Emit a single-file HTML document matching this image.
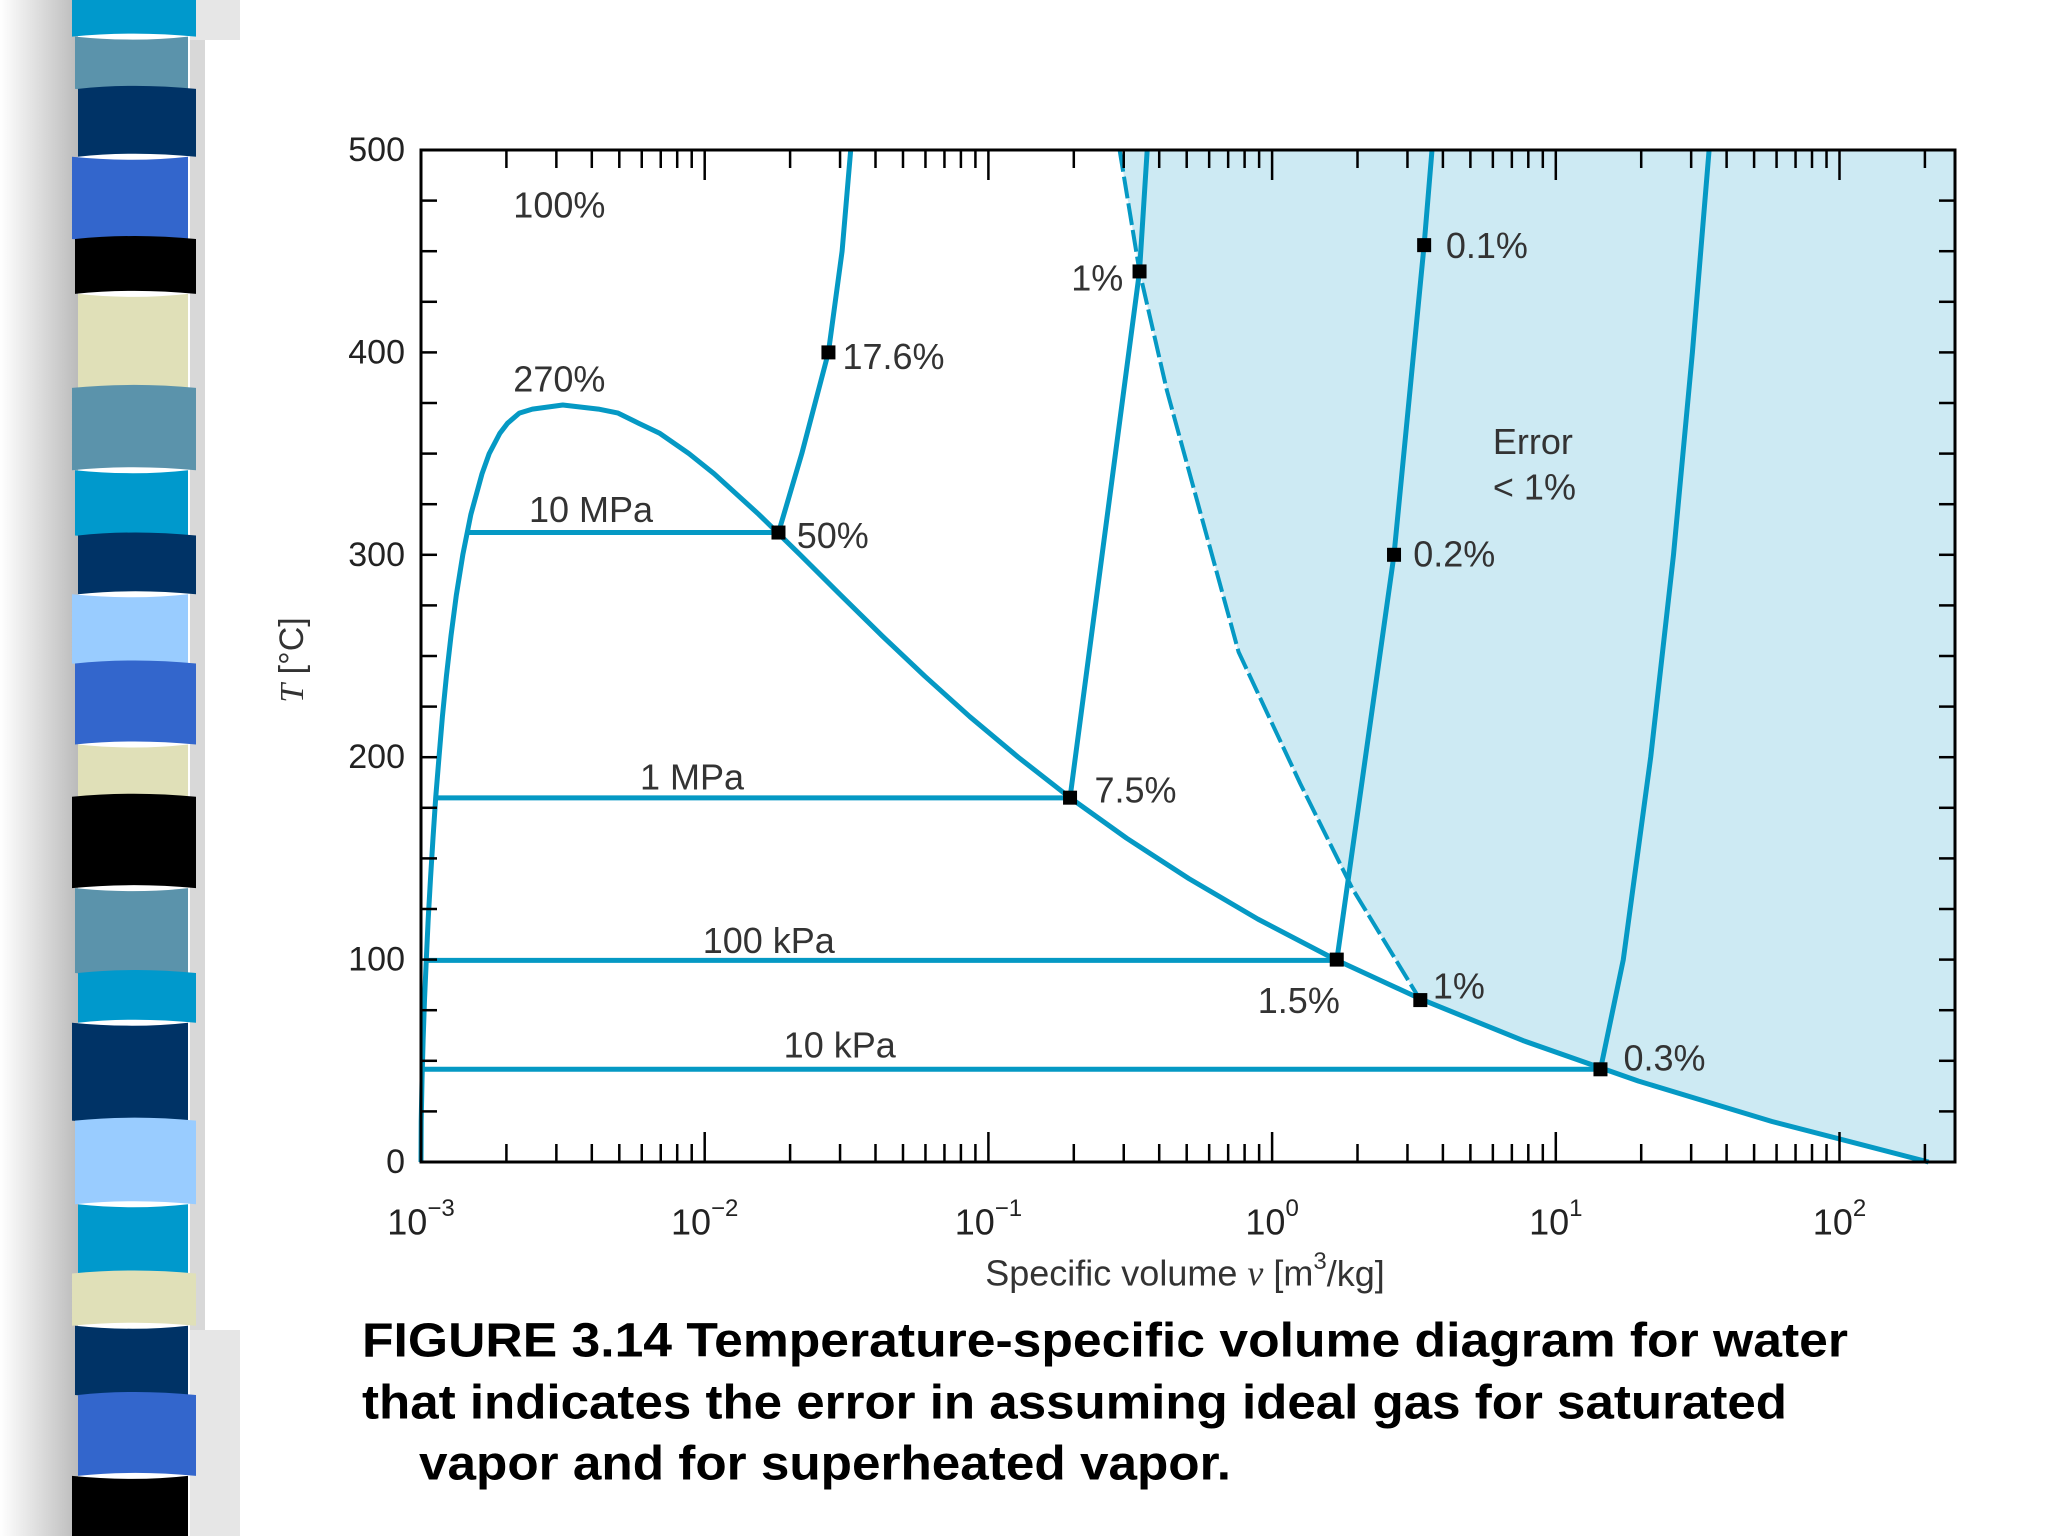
<!DOCTYPE html>
<html><head><meta charset="utf-8"><style>
html,body{margin:0;padding:0;background:#fff;}
svg{display:block;font-family:"Liberation Sans",sans-serif;}
</style></head><body>
<svg id="chart" width="2048" height="1536" viewBox="0 0 2048 1536" xmlns="http://www.w3.org/2000/svg">
<defs><linearGradient id="gs" x1="0" x2="1"><stop offset="0" stop-color="#fff"/><stop offset="1" stop-color="#bbb"/></linearGradient></defs>
<rect width="2048" height="1536" fill="#fff"/>
<rect x="0" y="0" width="78" height="1536" fill="url(#gs)"/>
<rect x="190" y="0" width="50" height="40" fill="#e6e6e6"/>
<rect x="190" y="40" width="15" height="1290" fill="#d8d8d8"/>
<rect x="190" y="1330" width="50" height="206" fill="#e6e6e6"/>
<g id="stripes"></g>
<g id="plot"></g>
<text transform="translate(292,660) rotate(-90)" text-anchor="middle" dominant-baseline="central" font-size="34" fill="#333"><tspan font-style="italic" font-family="Liberation Serif">T</tspan> [°C]</text>
<text x="1185" y="1273" text-anchor="middle" dominant-baseline="central" font-size="36" fill="#333">Specific volume <tspan font-style="italic" font-family="Liberation Serif">v</tspan> [m<tspan font-size="24" dy="-12">3</tspan><tspan dy="12">/kg]</tspan></text>
<g font-weight="bold" font-size="48" fill="#000">
<text x="362" y="1341" dominant-baseline="central" textLength="1486" lengthAdjust="spacingAndGlyphs">FIGURE 3.14 Temperature-specific volume  diagram for water</text>
<text x="362" y="1403" dominant-baseline="central" textLength="1425" lengthAdjust="spacingAndGlyphs">that indicates the error in assuming ideal gas for saturated</text>
<text x="419" y="1464" dominant-baseline="central" textLength="812" lengthAdjust="spacingAndGlyphs">vapor and for superheated vapor.</text>
</g>
</svg>
<script>
const stripeColors=['#0099cc','#5b93ab','#003366','#3366cc','#000000','#e0e0b8','#5b93ab','#0099cc','#003366','#99ccff','#3366cc','#e0e0b8','#000000','#5b93ab','#0099cc','#003366','#99ccff','#0099cc','#e0e0b8','#003366','#3366cc','#000000'];
const stripeEdges=[0,28,68,120,183,225,297,360,410,455,508,570,610,680,745,783,858,922,975,1015,1068,1130,1176];
// saturation dome
const domeT=[0.01,20,40,60,80,100,120,140,160,180,200,220,240,260,280,300,320,340,350,360,365,370,372,374];
const domeVf=[0.001,0.001002,0.001008,0.001017,0.001029,0.001044,0.00106,0.00108,0.001102,0.001127,0.001157,0.00119,0.001229,0.001276,0.001332,0.001404,0.001499,0.00164,0.00174,0.001895,0.00202,0.00222,0.00247,0.00316];
const domeVg=[206.1,57.8,19.52,7.67,3.41,1.673,0.891,0.509,0.307,0.194,0.1274,0.086,0.0597,0.0422,0.0302,0.0217,0.0155,0.0108,0.0088,0.00695,0.00585,0.00495,0.00422,0.00316];
// isobars: saturation temperature and superheated paths
const isoNames=['10 MPa','1 MPa','100 kPa','10 kPa'];
const isoTsat=[311,179.9,99.6,45.8];
const isoVf=[0.00145,0.001127,0.001043,0.00101];
const supV=[[0.0182,0.022,0.0273,0.0305,0.0327],[0.194,0.341,0.363],[1.69,2.69,3.435,3.66],[14.37,17.3,21.6,26.0,30.3,34.7]];
const supT=[[311,350,400,450,500],[179.9,440,500],[99.6,300,453,500],[45.8,100,200,300,400,500]];
// 1% error boundary (dashed)
const bndV=[0.29,0.341,0.426,0.762,1.256,1.92,3.33];
const bndT=[500,440,381,252,187,135,80];
// marked points
const ptV=[0.0273,0.0182,0.194,0.341,3.435,2.69,1.69,3.33,14.37];
const ptT=[400,311,180,440,453,300,100,80,45.8];
const yTicks=[0,100,200,300,400,500];
const xDecades=[-3,-2,-1,0,1,2];

const NS='http://www.w3.org/2000/svg';
const L=421,R=1955,T0=1162,T5=150,DEC=283.7;
const X=v=>L+(Math.log10(v)+3)*DEC;
const Y=t=>T0-(t/500)*(T0-T5);
function mk(tag,attrs,parent){const e=document.createElementNS(NS,tag);for(const k in attrs)e.setAttribute(k,attrs[k]);parent.appendChild(e);return e;}
const sg=document.getElementById('stripes');
const sc=1536/1176;
stripeColors.forEach((c,i)=>{const y0=stripeEdges[i]*sc,y1=stripeEdges[i+1]*sc;const w=i%2?6:-6;
 const p=mk('path',{d:`M${72+(i%3)*3},${y0} Q134,${y0+w} ${196-(i%2)*8},${y0} L${196-(i%2)*8},${y1} Q134,${y1+w} ${72+(i%3)*3},${y1} Z`,fill:c},sg);
 
 });
const g=document.getElementById('plot');
const xmax=Math.pow(10,(R-L)/DEC-3);
// shaded region
let sh=[];bndV.forEach((v,i)=>sh.push([X(v),Y(bndT[i])]));
for(let i=domeT.length-1;i>=0;i--){if(domeT[i]<=80)sh.push([X(domeVg[i]),Y(domeT[i])]);}
sh.push([R,Y(0)],[R,Y(500)]);
const shade=mk('polygon',{points:sh.map(p=>p.join(',')).join(' '),fill:'#cdeaf3'},g);


const C='#0599c4';
function line(vs,ts,name,extra){const d=vs.map((v,i)=>(i?'L':'M')+X(v).toFixed(1)+','+Y(ts[i]).toFixed(1)).join(' ');
 const p=mk('path',Object.assign({d:d,fill:'none',stroke:C,'stroke-width':5,'stroke-linejoin':'round'},extra||{}),g);
 
 return p;}
// dome
const dv=domeVf.concat(domeVg.slice(0,-1).reverse()),dt=domeT.concat(domeT.slice(0,-1).reverse());
line(dv,dt,'saturation-dome');
isoNames.forEach((n,i)=>{line([isoVf[i],supV[i][0]],[isoTsat[i],isoTsat[i]],'isobar-'+n.replace(' ','-').toLowerCase());
 line(supV[i],supT[i],'superheated-'+n.replace(' ','-').toLowerCase());});
line(bndV,bndT,'one-percent-error-boundary',{'stroke-dasharray':'22 5','stroke-width':4});
ptV.forEach((v,i)=>{const r=mk('rect',{x:X(v)-7,y:Y(ptT[i])-7,width:14,height:14,fill:'#000'},g);
 
 });
// frame
const fr=mk('rect',{x:L,y:T5,width:R-L,height:T0-T5,fill:'none',stroke:'#000','stroke-width':3},g);


for(let t=0;t<=500;t+=25){[[L,1],[R,-1]].forEach(([x,s])=>{const l=mk('line',{x1:x,x2:x+s*16,y1:Y(t),y2:Y(t),stroke:'#000','stroke-width':2.5},g);
 
 });}
xDecades.forEach(d=>{for(let m=1;m<10;m++){const v=m*Math.pow(10,d);if(v>xmax)break;const x=X(v);const len=m==1?30:18;
 [[T0,-1],[T5,1]].forEach(([y,s])=>{const l=mk('line',{x1:x,x2:x,y1:y,y2:y+s*len,stroke:'#000','stroke-width':2.5},g);
 
 });}});
yTicks.forEach(t=>{const e=mk('text',{x:405,y:Y(t),'text-anchor':'end','dominant-baseline':'central','font-size':34,fill:'#222'},g);e.textContent=t;
 
 });
xDecades.forEach(d=>{const e=mk('text',{x:X(Math.pow(10,d)),y:1222,'text-anchor':'middle','dominant-baseline':'central','font-size':36,fill:'#222'},g);
 e.innerHTML='10<tspan font-size="24" dy="-14">'+(d<0?'−'+(-d):d)+'</tspan>';
 
 });
const labels=[['100%',393,157,'start'],['270%',393,290,'start'],['10 MPa',405,390,'start'],['1 MPa',490,595,'start'],['100 kPa',538,720,'start'],['10 kPa',600,800,'start'],['17.6%',645,273,'start'],['50%',610,410,'start'],['7.5%',838,605,'start'],['1%',860,213,'end'],['0.1%',1107,188,'start'],['Error',1143,338,'start'],['< 1%',1143,373,'start'],['0.2%',1082,424,'start'],['1.5%',963,766,'start'],['1%',1097,755,'start'],['0.3%',1243,810,'start']];
labels.forEach(([t,x,y,a])=>{const e=mk('text',{x:x*sc,y:y*sc,'text-anchor':a,'dominant-baseline':'central','font-size':36,fill:'#333'},g);e.textContent=t;
 
 });
</script>
</body></html>
